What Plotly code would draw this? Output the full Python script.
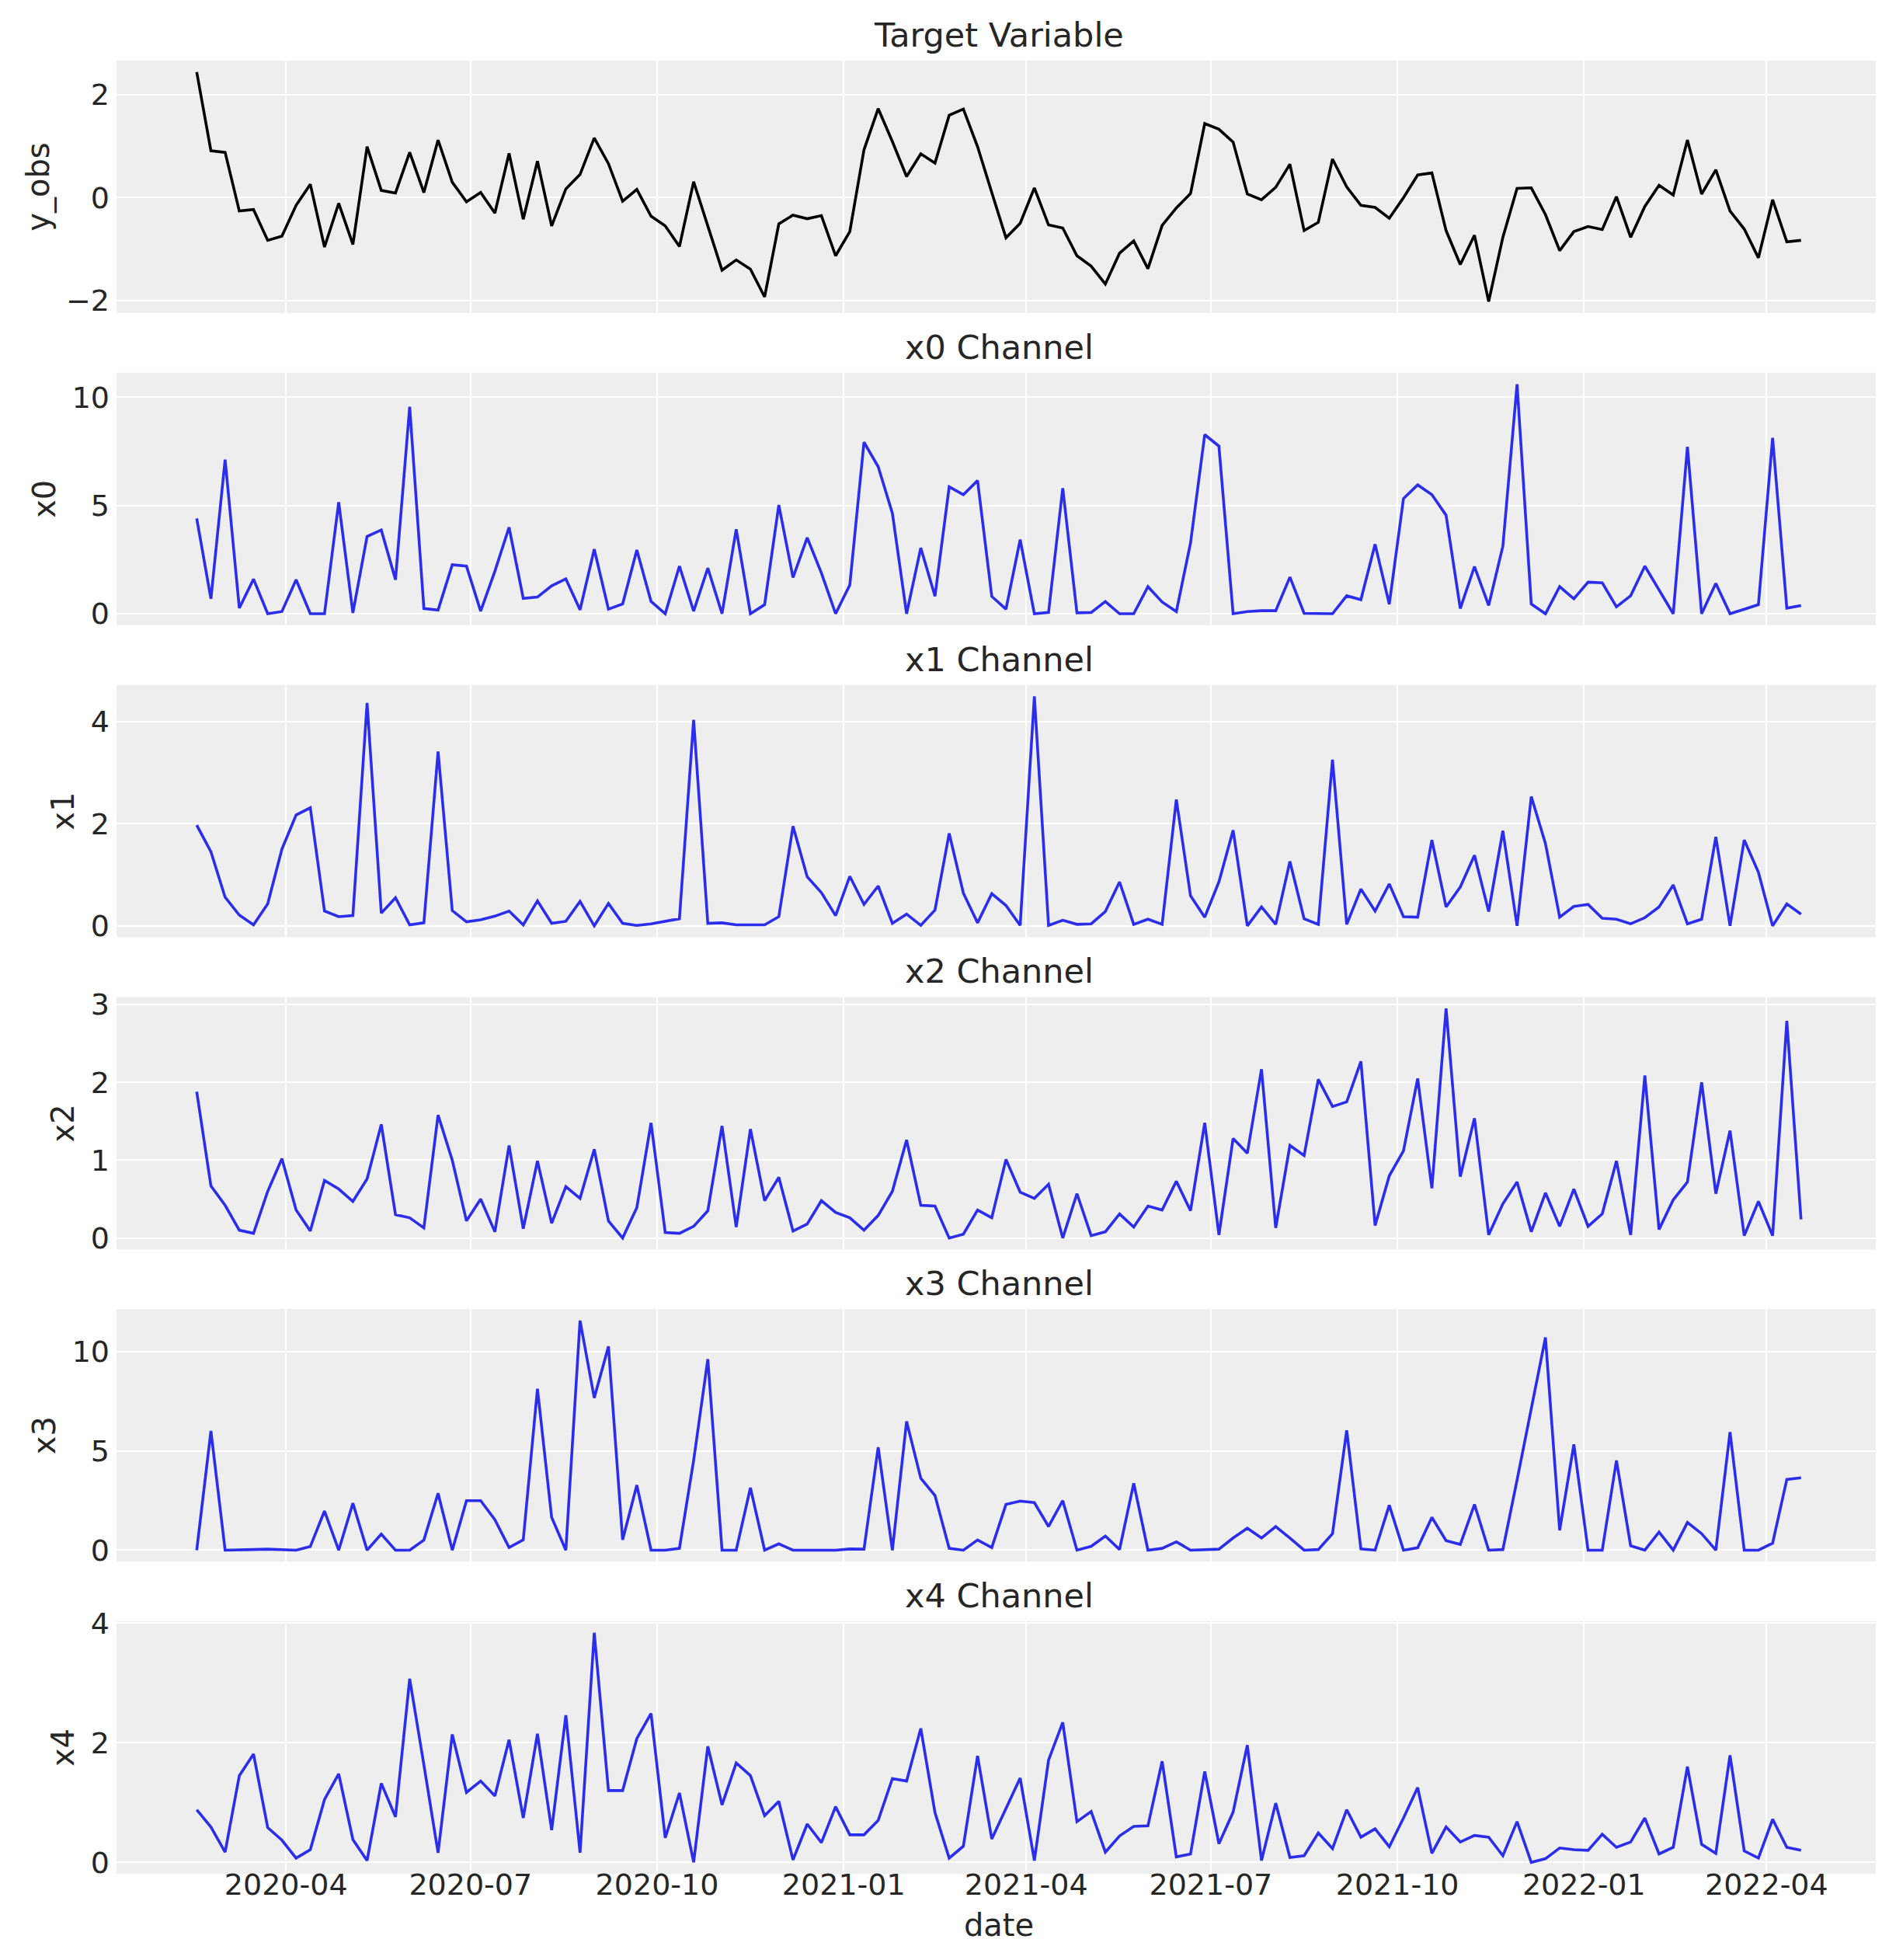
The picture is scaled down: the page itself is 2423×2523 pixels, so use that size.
import pandas as pd
import plotly.graph_objects as go

dates = pd.date_range("2020-02-17", periods=114, freq="W-MON")

y_obs = [2.44, 0.91, 0.88, -0.26, -0.23, -0.83, -0.75, -0.15, 0.26, -0.96,
         -0.11, -0.91, 0.99, 0.14, 0.09, 0.88, 0.10, 1.12, 0.30, -0.08,
         0.10, -0.30, 0.86, -0.42, 0.71, -0.55, 0.17, 0.45, 1.16, 0.66,
         -0.07, 0.16, -0.36, -0.55, -0.95, 0.31, -0.55, -1.41, -1.21, -1.39,
         -1.93, -0.51, -0.34, -0.41, -0.35, -1.13, -0.66, 0.93, 1.73, 1.09,
         0.41, 0.85, 0.67, 1.60, 1.72, 0.99, 0.10, -0.78, -0.50, 0.19,
         -0.53, -0.59, -1.13, -1.33, -1.68, -1.08, -0.84, -1.38, -0.54, -0.20,
         0.08, 1.44, 1.33, 1.08, 0.07, -0.04, 0.20, 0.65, -0.64, -0.48,
         0.75, 0.21, -0.15, -0.19, -0.40, 0.0, 0.44, 0.48, -0.64, -1.30,
         -0.73, -2.02, -0.77, 0.18, 0.19, -0.33, -1.03, -0.66, -0.56, -0.62,
         0.02, -0.77, -0.17, 0.24, 0.05, 1.12, 0.07, 0.54, -0.26, -0.61,
         -1.17, -0.04, -0.86, -0.83]

x0 = [4.40, 0.69, 7.12, 0.26, 1.60, 0.0, 0.10, 1.57, 0.0, 0.0,
      5.15, 0.04, 3.57, 3.87, 1.57, 9.56, 0.24, 0.17, 2.26, 2.20,
      0.12, 1.96, 3.99, 0.71, 0.77, 1.29, 1.61, 0.18, 2.98, 0.21,
      0.45, 2.94, 0.57, 0.0, 2.20, 0.12, 2.11, 0.0, 3.90, 0.0,
      0.42, 5.02, 1.67, 3.51, 1.88, 0.0, 1.33, 7.92, 6.79, 4.64,
      0.0, 3.04, 0.81, 5.86, 5.50, 6.15, 0.80, 0.21, 3.42, 0.0,
      0.06, 5.80, 0.04, 0.06, 0.56, 0.0, 0.0, 1.25, 0.54, 0.10,
      3.27, 8.27, 7.74, 0.0, 0.10, 0.14, 0.14, 1.69, 0.02, 0.0,
      0.0, 0.83, 0.65, 3.21, 0.44, 5.32, 5.95, 5.50, 4.55, 0.24,
      2.18, 0.38, 3.12, 10.6, 0.45, 0.0, 1.25, 0.69, 1.46, 1.43,
      0.32, 0.83, 2.20, 1.10, 0.0, 7.71, 0.0, 1.40, 0.0, 0.21,
      0.42, 8.12, 0.26, 0.38]

x1 = [1.97, 1.45, 0.56, 0.21, 0.02, 0.43, 1.50, 2.17, 2.31, 0.29,
      0.18, 0.20, 4.36, 0.25, 0.55, 0.02, 0.06, 3.41, 0.30, 0.08,
      0.12, 0.19, 0.29, 0.02, 0.49, 0.05, 0.09, 0.48, 0.0, 0.44,
      0.05, 0.01, 0.04, 0.09, 0.14, 4.03, 0.05, 0.06, 0.02, 0.02,
      0.02, 0.18, 1.95, 0.96, 0.65, 0.20, 0.97, 0.42, 0.78, 0.05,
      0.23, 0.01, 0.31, 1.81, 0.64, 0.06, 0.63, 0.40, 0.01, 4.49,
      0.01, 0.11, 0.03, 0.04, 0.28, 0.86, 0.03, 0.13, 0.03, 2.47,
      0.59, 0.17, 0.86, 1.87, 0.0, 0.37, 0.03, 1.26, 0.14, 0.03,
      3.25, 0.03, 0.72, 0.29, 0.82, 0.18, 0.17, 1.68, 0.37, 0.76,
      1.38, 0.28, 1.86, 0.0, 2.53, 1.61, 0.17, 0.38, 0.42, 0.15,
      0.13, 0.04, 0.16, 0.37, 0.80, 0.04, 0.13, 1.74, 0.0, 1.68,
      1.05, 0.0, 0.43, 0.23]

x2 = [1.88, 0.67, 0.42, 0.10, 0.06, 0.60, 1.02, 0.36, 0.09, 0.74,
      0.63, 0.47, 0.76, 1.46, 0.30, 0.26, 0.13, 1.58, 1.00, 0.22,
      0.50, 0.08, 1.19, 0.12, 0.99, 0.19, 0.66, 0.51, 1.14, 0.22,
      0.0, 0.39, 1.48, 0.07, 0.06, 0.15, 0.35, 1.44, 0.14, 1.40,
      0.48, 0.78, 0.09, 0.18, 0.48, 0.33, 0.26, 0.10, 0.29, 0.60,
      1.26, 0.42, 0.41, 0.0, 0.05, 0.36, 0.26, 1.01, 0.59, 0.51,
      0.69, 0.0, 0.57, 0.03, 0.08, 0.31, 0.14, 0.41, 0.36, 0.73,
      0.35, 1.48, 0.04, 1.28, 1.09, 2.17, 0.13, 1.19, 1.06, 2.04,
      1.69, 1.75, 2.27, 0.16, 0.80, 1.12, 2.05, 0.64, 2.95, 0.79,
      1.54, 0.04, 0.44, 0.72, 0.08, 0.58, 0.15, 0.63, 0.15, 0.31,
      0.99, 0.04, 2.09, 0.11, 0.49, 0.72, 2.00, 0.57, 1.38, 0.03,
      0.47, 0.03, 2.79, 0.24]

x3 = [0.0, 6.0, 0.0, 0.0, 0.03, 0.05, 0.01, 0.0, 0.18, 1.97,
      0.0, 2.36, 0.0, 0.81, 0.0, 0.0, 0.51, 2.86, 0.0, 2.49,
      2.49, 1.53, 0.13, 0.52, 8.12, 1.65, 0.0, 11.55, 7.66, 10.25,
      0.52, 3.27, 0.0, 0.0, 0.09, 4.51, 9.61, 0.0, 0.0, 3.14,
      0.0, 0.32, 0.0, 0.0, 0.0, 0.0, 0.06, 0.05, 5.18, 0.0,
      6.48, 3.62, 2.75, 0.09, 0.0, 0.51, 0.13, 2.30, 2.47, 2.39,
      1.19, 2.49, 0.0, 0.19, 0.71, 0.03, 3.36, 0.0, 0.09, 0.42,
      0.0, 0.01, 0.05, 0.61, 1.10, 0.61, 1.19, 0.61, 0.0, 0.03,
      0.83, 6.03, 0.06, 0.0, 2.26, 0.0, 0.12, 1.65, 0.48, 0.29,
      2.30, 0.0, 0.03, 3.53, 7.19, 10.70, 1.0, 5.32, 0.0, 0.0,
      4.51, 0.22, 0.0, 0.91, 0.0, 1.39, 0.83, 0.0, 5.94, 0.0,
      0.0, 0.35, 3.56, 3.64]

x4 = [0.88, 0.59, 0.17, 1.45, 1.81, 0.58, 0.37, 0.07, 0.21, 1.05,
      1.48, 0.38, 0.03, 1.32, 0.76, 3.07, 1.63, 0.16, 2.14, 1.17,
      1.36, 1.11, 2.05, 0.74, 2.15, 0.54, 2.46, 0.16, 3.84, 1.20,
      1.20, 2.07, 2.49, 0.41, 1.16, 0.0, 1.94, 0.96, 1.66, 1.45,
      0.78, 1.02, 0.04, 0.64, 0.33, 0.93, 0.46, 0.46, 0.70, 1.40,
      1.36, 2.24, 0.83, 0.07, 0.27, 1.78, 0.39, 0.90, 1.41, 0.03,
      1.71, 2.34, 0.68, 0.85, 0.17, 0.44, 0.60, 0.61, 1.69, 0.09,
      0.14, 1.52, 0.31, 0.84, 1.96, 0.03, 0.99, 0.08, 0.11, 0.49,
      0.23, 0.88, 0.42, 0.56, 0.26, 0.74, 1.25, 0.15, 0.59, 0.34,
      0.45, 0.42, 0.11, 0.68, 0.0, 0.06, 0.24, 0.21, 0.20, 0.47,
      0.25, 0.34, 0.74, 0.14, 0.25, 1.60, 0.30, 0.15, 1.79, 0.19,
      0.07, 0.72, 0.25, 0.20]

titles = ["Target Variable", "x0 Channel", "x1 Channel", "x2 Channel", "x3 Channel", "x4 Channel"]
ylabels = ["y_obs", "x0", "x1", "x2", "x3", "x4"]
series = [y_obs, x0, x1, x2, x3, x4]
ydticks = [2, 5, 2, 1, 5, 2]
xtick_vals = ["2020-04-01", "2020-07-01", "2020-10-01", "2021-01-01", "2021-04-01",
              "2021-07-01", "2021-10-01", "2022-01-01", "2022-04-01"]
xtick_text = ["2020-04", "2020-07", "2020-10", "2021-01", "2021-04",
              "2021-07", "2021-10", "2022-01", "2022-04"]

W, H = 2423, 2523
PL, PR, PT, PB = 142, 2414, 70, 2404
tops = [70 + 401.8 * k for k in range(6)]
bottoms = [395 + 401.8 * k for k in range(6)]
FONT = "DejaVu Sans"
TXT = "#262626"
BG = "#eeeeee"
BLUE = "#2a2eec"


def clamp(v):
    return max(0.0, min(1.0, v))


span = dates[-1] - dates[0]
xr = [dates[0] - span * 0.05, dates[-1] + span * 0.05]

fig = go.Figure()
layout = dict(
    width=W, height=H,
    margin=dict(l=PL, r=W - PR, t=PT, b=H - PB, autoexpand=False),
    paper_bgcolor="white", plot_bgcolor=BG,
    showlegend=False,
    font=dict(family=FONT, color=TXT, size=38),
)
annotations = []
for k in range(6):
    xa = "x" if k == 0 else f"x{k+1}"
    ya = "y" if k == 0 else f"y{k+1}"
    vals = series[k]
    fig.add_trace(go.Scatter(
        x=dates, y=vals, mode="lines", xaxis=xa, yaxis=ya,
        line=dict(color="black" if k == 0 else BLUE, width=3.6),
    ))
    lo, hi = min(vals), max(vals)
    pad = (hi - lo) * 0.05
    d0 = clamp((PB - bottoms[k]) / (PB - PT))
    d1 = clamp((PB - tops[k]) / (PB - PT))
    xkey = "xaxis" if k == 0 else f"xaxis{k+1}"
    ykey = "yaxis" if k == 0 else f"yaxis{k+1}"
    xdict = dict(
        domain=[0, 1], anchor=ya, range=xr, type="date",
        tickmode="array", tickvals=xtick_vals, ticktext=xtick_text,
        showticklabels=(k == 5), showgrid=True, gridcolor="white", gridwidth=2.4,
        zeroline=False, showline=False, ticks="", ticklabelstandoff=-12,
        tickfont=dict(size=38, color=TXT, family=FONT),
    )
    if k > 0:
        xdict["matches"] = "x"
    if k == 5:
        xdict["title"] = dict(text="date", font=dict(size=40, color=TXT, family=FONT), standoff=16)
    layout[xkey] = xdict
    layout[ykey] = dict(
        domain=[d0, d1], anchor=xa, range=[lo - pad, hi + pad],
        tickmode="linear", tick0=0, dtick=ydticks[k],
        showgrid=True, gridcolor="white", gridwidth=2.4,
        zeroline=False, showline=False, ticks="", ticklabelstandoff=8,
        tickfont=dict(size=38, color=TXT, family=FONT),
        title=dict(text=ylabels[k], font=dict(size=40, color=TXT, family=FONT), standoff=8),
    )
    annotations.append(dict(
        text=titles[k], xref="paper", yref="paper", x=0.5, y=d1,
        xanchor="center", yanchor="bottom", yshift=6, showarrow=False,
        font=dict(size=43, color=TXT, family=FONT),
    ))
layout["annotations"] = annotations
fig.update_layout(**layout)
fig.write_html("out.html")
